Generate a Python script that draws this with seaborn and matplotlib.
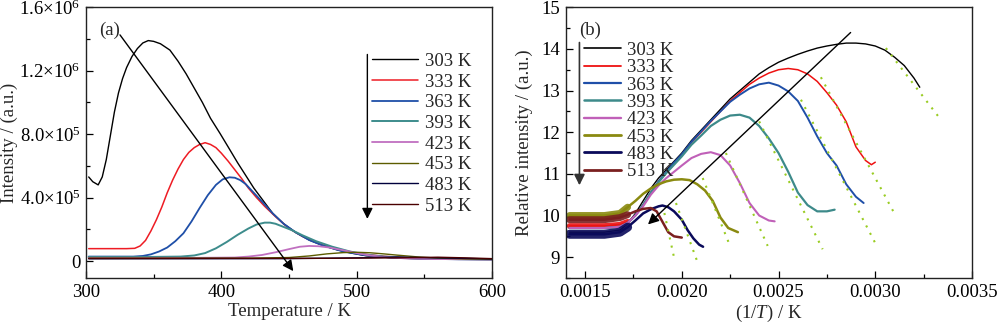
import numpy as np
import pandas as pd
import matplotlib
matplotlib.use("Agg")
import matplotlib.pyplot as plt
from matplotlib.lines import Line2D
from matplotlib.ticker import FixedLocator, MultipleLocator, FixedFormatter
import seaborn as sns

# ---------------- data: panel (a) ----------------
series_names = ["303 K", "333 K", "363 K", "393 K", "423 K", "453 K", "483 K", "513 K"]

a_T_303 = [302, 305, 309, 312, 315, 318, 321, 324, 327, 330, 334, 338, 342, 346, 350, 355, 362, 368, 374,
           380, 386, 392, 399, 405, 412, 418, 424, 431, 438, 446, 455, 465, 475, 485, 495, 507, 520, 535,
           555, 575, 600]
a_I_303 = [5.3, 5.0, 4.8, 5.3, 6.4, 7.9, 9.4, 10.6, 11.5, 12.2, 12.9, 13.4, 13.75, 13.9, 13.85, 13.7, 13.3,
           12.6, 11.8, 10.9, 10.0, 9.0, 8.05, 7.2, 6.2, 5.4, 4.6, 3.8, 3.0, 2.35, 1.8, 1.32, 0.98, 0.72,
           0.52, 0.33, 0.24, 0.17, 0.13, 0.11, 0.10]
a_T_333 = [302, 310, 320, 330, 336, 340, 344, 348, 352, 356, 360, 364, 368, 372, 376, 380, 384, 388, 392,
           396, 400, 405, 410, 415, 420, 426, 432, 440, 450, 460, 472, 485, 500, 520, 545, 570, 600]
a_I_333 = [0.78, 0.78, 0.78, 0.78, 0.80, 0.95, 1.3, 1.9, 2.6, 3.4, 4.3, 5.1, 5.8, 6.4, 6.85, 7.15, 7.35,
           7.46, 7.35, 7.15, 6.8, 6.3, 5.75, 5.2, 4.6, 4.0, 3.45, 2.8, 2.05, 1.55, 1.1, 0.75, 0.48, 0.3,
           0.17, 0.12, 0.10]
a_T_363 = [302, 320, 335, 342, 348, 354, 360, 366, 372, 378, 384, 390, 396, 401, 406, 410, 414, 418, 424,
           430, 438, 446, 455, 465, 475, 490, 505, 525, 550, 575, 600]
a_I_363 = [0.28, 0.28, 0.28, 0.32, 0.42, 0.6, 0.85, 1.25, 1.75, 2.5, 3.35, 4.15, 4.8, 5.15, 5.28, 5.25,
           5.1, 4.85, 4.3, 3.75, 3.0, 2.35, 1.8, 1.32, 0.98, 0.6, 0.38, 0.22, 0.14, 0.11, 0.10]
a_T_393 = [302, 340, 370, 380, 388, 396, 404, 412, 420, 426, 432, 436, 440, 446, 452, 460, 470, 482, 495,
           507, 520, 540, 565, 600]
a_I_393 = [0.25, 0.25, 0.28, 0.35, 0.5, 0.8, 1.2, 1.65, 2.05, 2.3, 2.42, 2.42, 2.35, 2.15, 1.95, 1.62,
           1.25, 0.9, 0.6, 0.4, 0.28, 0.18, 0.13, 0.10]
a_T_423 = [302, 380, 410, 420, 430, 440, 450, 458, 465, 472, 480, 490, 500, 510, 520, 535, 555, 580, 600]
a_I_423 = [0.2, 0.2, 0.22, 0.28, 0.38, 0.55, 0.75, 0.9, 0.95, 0.93, 0.85, 0.68, 0.5, 0.35, 0.25, 0.17,
           0.13, 0.11, 0.10]
a_T_453 = [302, 420, 450, 465, 478, 490, 500, 510, 520, 530, 545, 560, 580, 600]
a_I_453 = [0.18, 0.18, 0.22, 0.32, 0.45, 0.53, 0.55, 0.52, 0.45, 0.37, 0.26, 0.18, 0.13, 0.11]
a_T_483 = [302, 450, 500, 530, 560, 600]
a_I_483 = [0.14, 0.15, 0.2, 0.25, 0.2, 0.13]
a_T_513 = [302, 480, 530, 560, 580, 600]
a_I_513 = [0.16, 0.17, 0.2, 0.24, 0.2, 0.15]
a_scale = 1e5  # intensities above are in units of 1e5

a_yticks = [0, 4e5, 8e5, 1.2e6, 1.6e6]
a_yticklabels = ["0", "4.0×10$^{5}$", "8.0×10$^{5}$", "1.2×10$^{6}$", "1.6×10$^{6}$"]
a_xticks = [300, 400, 500, 600]

# ---------------- data: panel (b) ----------------
b_x_303 = [0.00142, 0.0016, 0.00168, 0.00172, 0.00176, 0.0018, 0.00184, 0.00188, 0.00192, 0.00196, 0.0020,
           0.00205, 0.0021, 0.00215, 0.0022, 0.00225, 0.0023, 0.00235, 0.0024, 0.00245, 0.0025, 0.00255,
           0.0026, 0.00265, 0.0027, 0.00275, 0.0028, 0.00285, 0.0029, 0.00295, 0.0030, 0.00305, 0.0031,
           0.00315, 0.0032, 0.00323]
b_y_303 = [9.6, 9.6, 9.65, 9.8, 10.05, 10.35, 10.65, 10.9, 11.1, 11.3, 11.5, 11.8, 12.05, 12.3, 12.55, 12.8,
           13.0, 13.2, 13.4, 13.55, 13.68, 13.78, 13.87, 13.95, 14.02, 14.07, 14.11, 14.14, 14.14, 14.12,
           14.07, 13.97, 13.8, 13.6, 13.3, 13.08]
b_x_333 = [0.00142, 0.0016, 0.00168, 0.00172, 0.00176, 0.0018, 0.00184, 0.00188, 0.00192, 0.00196, 0.0020,
           0.00205, 0.0021, 0.00215, 0.0022, 0.00225, 0.0023, 0.00235, 0.0024, 0.00245, 0.0025, 0.00255,
           0.0026, 0.00265, 0.0027, 0.00275, 0.0028, 0.00285, 0.0029, 0.00295, 0.00298, 0.0030]
b_y_333 = [9.75, 9.75, 9.78, 9.85, 10.0, 10.25, 10.55, 10.82, 11.05, 11.25, 11.45, 11.75, 12.0, 12.25, 12.5,
           12.75, 12.95, 13.15, 13.3, 13.42, 13.5, 13.53, 13.5, 13.4, 13.22, 12.95, 12.65, 12.25, 11.65,
           11.32, 11.22, 11.28]
b_x_363 = [0.00142, 0.0016, 0.00168, 0.00172, 0.00176, 0.0018, 0.00184, 0.00188, 0.00192, 0.00196, 0.0020,
           0.00205, 0.0021, 0.00215, 0.0022, 0.00225, 0.0023, 0.00235, 0.0024, 0.00245, 0.0025, 0.00255,
           0.0026, 0.00265, 0.0027, 0.00275, 0.0028, 0.00285, 0.0029, 0.00294]
b_y_363 = [9.7, 9.7, 9.73, 9.82, 10.0, 10.25, 10.55, 10.82, 11.05, 11.27, 11.47, 11.77, 12.02, 12.27, 12.5,
           12.73, 12.9, 13.05, 13.15, 13.19, 13.12, 12.98, 12.75, 12.35, 11.9, 11.5, 11.2, 10.75, 10.45,
           10.3]
b_x_393 = [0.00142, 0.0016, 0.00168, 0.00172, 0.00176, 0.0018, 0.00184, 0.00188, 0.00192, 0.00196, 0.0020,
           0.00205, 0.0021, 0.00215, 0.0022, 0.00225, 0.0023, 0.00235, 0.0024, 0.00245, 0.0025, 0.00255,
           0.0026, 0.00265, 0.0027, 0.00275, 0.00279]
b_y_393 = [9.7, 9.7, 9.73, 9.82, 10.0, 10.25, 10.55, 10.8, 11.02, 11.22, 11.42, 11.7, 11.92, 12.15, 12.3,
           12.4, 12.42, 12.35, 12.15, 11.85, 11.5, 11.05, 10.55, 10.25, 10.1, 10.1, 10.14]
b_x_423 = [0.00142, 0.0016, 0.00168, 0.00172, 0.00176, 0.0018, 0.00184, 0.00188, 0.00192, 0.00196, 0.0020,
           0.00205, 0.0021, 0.00215, 0.0022, 0.00225, 0.0023, 0.00235, 0.0024, 0.00245, 0.00248]
b_y_423 = [9.7, 9.7, 9.73, 9.82, 10.0, 10.22, 10.5, 10.72, 10.9, 11.05, 11.2, 11.38, 11.48, 11.52, 11.45,
           11.2, 10.78, 10.3, 10.0, 9.88, 9.86]
b_x_453 = [0.00142, 0.0016, 0.00168, 0.00172, 0.00176, 0.0018, 0.00184, 0.00188, 0.00192, 0.00196, 0.0020,
           0.00204, 0.00208, 0.00212, 0.00216, 0.0022, 0.00224, 0.00229]
b_y_453 = [10.0, 10.0, 10.05, 10.2, 10.35, 10.52, 10.65, 10.75, 10.82, 10.86, 10.87, 10.85, 10.75, 10.6,
           10.35, 9.95, 9.7, 9.6]
b_x_483 = [0.00142, 0.0016, 0.00168, 0.00172, 0.00176, 0.0018, 0.00184, 0.00188, 0.0019, 0.00193, 0.00196,
           0.0020, 0.00203, 0.00206, 0.00209, 0.00211]
b_y_483 = [9.55, 9.55, 9.6, 9.72, 9.88, 10.05, 10.15, 10.22, 10.24, 10.2, 10.1, 9.9, 9.65, 9.45, 9.3, 9.25]
b_x_513 = [0.00142, 0.0016, 0.00168, 0.00172, 0.00176, 0.0018, 0.00184, 0.00187, 0.0019, 0.00193, 0.00196,
           0.0020]
b_y_513 = [9.9, 9.9, 9.95, 10.02, 10.1, 10.16, 10.18, 10.1, 9.85, 9.6, 9.5, 9.47]

# fitted (dotted) line endpoints for each series
fit_x0 = [0.003055, 0.002719, 0.002616, 0.0024, 0.002228, 0.002108, 0.00197, 0.00191]
fit_y0 = [14.02, 13.32, 12.78, 12.26, 11.50, 10.90, 10.30, 10.06]
fit_x1 = [0.003339, 0.003107, 0.003012, 0.002728, 0.002444, 0.002246, 0.002082, 0.001962]
fit_y1 = [12.30, 9.98, 9.23, 9.19, 9.27, 9.31, 8.87, 8.95]

b_xticks = [0.0015, 0.0020, 0.0025, 0.0030, 0.0035]
b_yticks = [9, 10, 11, 12, 13, 14, 15]

# ---------------- style ----------------
sns.set_theme(style="ticks")
plt.rcParams["font.family"] = ["Liberation Serif", "DejaVu Serif"]
plt.rcParams["mathtext.fontset"] = "custom"
plt.rcParams["mathtext.rm"] = "Liberation Serif"
plt.rcParams["mathtext.it"] = "Liberation Serif:italic"
FS = 13.5

a_colors = ["#000000", "#ee1c24", "#1f4fa8", "#3d8c8c", "#c070c0", "#5c5c00", "#00003c", "#4a0000"]
a_lw = [1.0, 1.1, 1.3, 1.4, 1.3, 1.0, 1.0, 1.0]
b_colors = ["#000000", "#ee1111", "#1f4fa8", "#3d8a8a", "#c060b8", "#8a8a10", "#0a0a5a", "#7a1f1f"]
b_lw = [1.0, 1.1, 1.4, 1.6, 1.5, 1.8, 1.8, 1.8]
b_band = [0, 4.0, 0, 0, 0, 5.0, 6.5, 5.0]
fit_color = "#99cc22"

fig = plt.figure(figsize=(10, 3.32), dpi=100)
axA = fig.add_axes([0.086, 0.1627, 0.406, 0.8154])
axB = fig.add_axes([0.5657, 0.1627, 0.4063, 0.8154])

# ---------------- panel (a) ----------------
a_T = [a_T_303, a_T_333, a_T_363, a_T_393, a_T_423, a_T_453, a_T_483, a_T_513]
a_I = [a_I_303, a_I_333, a_I_363, a_I_393, a_I_423, a_I_453, a_I_483, a_I_513]
for i, name in enumerate(series_names):
    df = pd.DataFrame({"T": a_T[i], "I": np.array(a_I[i]) * a_scale})
    sns.lineplot(data=df, x="T", y="I", ax=axA, color=a_colors[i], lw=a_lw[i],
                 sort=False, estimator=None)

axA.set_xlim(300, 600)
axA.set_ylim(-1.07e5, 1.6e6)
axA.xaxis.set_major_locator(FixedLocator(a_xticks))
axA.xaxis.set_minor_locator(MultipleLocator(50))
axA.yaxis.set_major_locator(FixedLocator(a_yticks))
axA.yaxis.set_major_formatter(FixedFormatter(a_yticklabels))
axA.yaxis.set_minor_locator(MultipleLocator(2e5))
axA.set_xlabel("Temperature / K", fontsize=FS, labelpad=2)
axA.set_ylabel("Intensity / (a.u.)", fontsize=FS, labelpad=1)

handlesA = [Line2D([], [], color=a_colors[i], lw=a_lw[i]) for i in range(8)]
axA.legend(handlesA, series_names, loc="upper left", bbox_to_anchor=(0.704, 0.832), frameon=False,
           fontsize=FS, handlelength=2.45, handletextpad=0.38, labelspacing=0.19, borderaxespad=0,
           borderpad=0)
axA.text(0.032, 0.915, "(a)", transform=axA.transAxes, fontsize=FS, ha="left", va="center")
axA.annotate("", xy=(454.4, -7.8e4), xytext=(323.9, 1.44e6),
             arrowprops=dict(arrowstyle="-|>", color="black", lw=1.0, mutation_scale=16))
axA.annotate("", xy=(507.9, 2.48e5), xytext=(507.9, 1.32e6),
             arrowprops=dict(arrowstyle="-|>", color="black", lw=1.0, mutation_scale=16))

# ---------------- panel (b) ----------------
b_x = [b_x_303, b_x_333, b_x_363, b_x_393, b_x_423, b_x_453, b_x_483, b_x_513]
b_y = [b_y_303, b_y_333, b_y_363, b_y_393, b_y_423, b_y_453, b_y_483, b_y_513]
for i, name in enumerate(series_names):
    df = pd.DataFrame({"x": b_x[i], "y": b_y[i]})
    sns.lineplot(data=df, x="x", y="y", ax=axB, color=b_colors[i], lw=b_lw[i],
                 sort=False, estimator=None)
    if b_band[i] > 0:
        sub = df[df["x"] <= 0.00172]
        sns.lineplot(data=sub, x="x", y="y", ax=axB, color=b_colors[i], lw=b_band[i],
                     sort=False, estimator=None, alpha=0.9)
for i in range(8):
    dff = pd.DataFrame({"x": [fit_x0[i], fit_x1[i]], "y": [fit_y0[i], fit_y1[i]]})
    sns.lineplot(data=dff, x="x", y="y", ax=axB, color=fit_color, lw=1.5,
                 linestyle=(0, (1, 3)), sort=False, estimator=None)

axB.set_xlim(0.0014, 0.0035)
axB.set_ylim(8.5, 15)
axB.xaxis.set_major_locator(FixedLocator(b_xticks))
axB.xaxis.set_major_formatter(FixedFormatter([f"{v:.4f}" for v in b_xticks]))
axB.xaxis.set_minor_locator(MultipleLocator(0.00025))
axB.yaxis.set_major_locator(FixedLocator(b_yticks))
axB.yaxis.set_major_formatter(FixedFormatter([str(v) for v in b_yticks]))
axB.yaxis.set_minor_locator(MultipleLocator(0.5))
axB.set_xlabel("(1/$\\mathit{T}$) / K", fontsize=FS, labelpad=2)
axB.set_ylabel("Relative intensity / (a.u.)", fontsize=FS, labelpad=6)

handlesB = [Line2D([], [], color=b_colors[i], lw=b_lw[i] + 0.2) for i in range(8)]
axB.legend(handlesB, series_names, loc="upper left", bbox_to_anchor=(0.045, 0.872), frameon=False,
           fontsize=FS, handlelength=1.95, handletextpad=0.33, labelspacing=0.01, borderaxespad=0,
           borderpad=0)
axB.text(0.033, 0.915, "(b)", transform=axB.transAxes, fontsize=FS, ha="left", va="center")
axB.annotate("", xy=(0.001815, 9.74), xytext=(0.002883, 14.44),
             arrowprops=dict(arrowstyle="-|>", color="black", lw=1.0, mutation_scale=16))
axB.annotate("", xy=(0.001471, 10.66), xytext=(0.001471, 14.22),
             arrowprops=dict(arrowstyle="-|>", color="#333333", lw=1.2, mutation_scale=16))

for ax in (axA, axB):
    ax.tick_params(which="both", direction="in", top=False, right=False, labelsize=FS,
                   colors="black", pad=4)
    ax.tick_params(which="major", length=5, width=0.9)
    ax.tick_params(which="minor", length=2.8, width=0.9)
    for s in ax.spines.values():
        s.set_visible(True)
        s.set_linewidth(1.0)
        s.set_color("#222222")

fig.savefig("out.png", dpi=100)
